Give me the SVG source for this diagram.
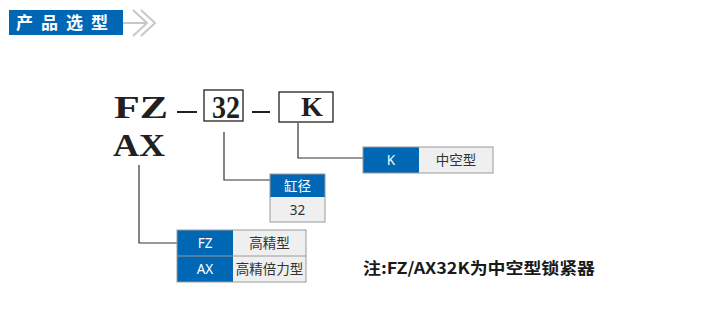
<svg xmlns="http://www.w3.org/2000/svg" width="718" height="315" viewBox="0 0 718 315">
<style>
.big{font-family:"Liberation Serif",serif;font-weight:bold;fill:#231f20}
.cw{font-family:"Noto Sans","Noto Sans CJK SC",sans-serif;font-size:13.5px;fill:#fff;text-anchor:middle}
.cg{font-family:"Noto Sans","Noto Sans CJK SC",sans-serif;font-size:13.5px;fill:#333;text-anchor:middle}
.blue{fill:#0067b5}
.grey{fill:#efefef}
.frame{fill:none;stroke:#9a9a9a;stroke-width:1}
.conn{fill:none;stroke:#333;stroke-width:1.2}
.box{fill:none;stroke:#231f20;stroke-width:1.3}
</style>
<rect width="718" height="315" fill="#fff"/>
<g id="header">
<rect x="9" y="10" width="114" height="25" class="blue"/>
<text x="66" y="28.5" font-family="'Noto Sans CJK SC',sans-serif" font-weight="bold" font-size="17" fill="#fff" text-anchor="middle" letter-spacing="8">产品选型</text>
<line x1="123" y1="23" x2="147" y2="23" stroke="#c8c8c8" stroke-width="2"/>
<polyline points="133,10 147,23 133,36" fill="none" stroke="#c8c8c8" stroke-width="2"/>
<polyline points="141,10 155,23 141,36" fill="none" stroke="#c8c8c8" stroke-width="2"/>
</g>
<g id="code">
<text x="114" y="118" class="big" font-size="32" textLength="54" lengthAdjust="spacingAndGlyphs">FZ</text>
<text x="113" y="156" class="big" font-size="32" textLength="52" lengthAdjust="spacingAndGlyphs">AX</text>
<line x1="177" y1="112" x2="197" y2="112" stroke="#231f20" stroke-width="2"/>
<rect x="204" y="90" width="39" height="31" class="box"/>
<text x="212" y="118" class="big" font-size="32" textLength="28" lengthAdjust="spacingAndGlyphs">32</text>
<line x1="252" y1="112" x2="270" y2="112" stroke="#231f20" stroke-width="2"/>
<rect x="279" y="92" width="54" height="30" class="box"/>
<text x="301" y="116" class="big" font-size="27" textLength="22" lengthAdjust="spacingAndGlyphs">K</text>
</g>
<g id="connectors">
<polyline points="298,123 298,158 363,158" class="conn"/>
<polyline points="224,132 224,180 270,180" class="conn"/>
<polyline points="139,165 139,243 177,243" class="conn"/>
</g>
<g id="table-k">
<rect x="363" y="147" width="56" height="26" class="blue"/>
<rect x="419" y="147" width="74" height="26" class="grey"/>
<rect x="363" y="147" width="130" height="26" class="frame"/>
<text x="391" y="165" class="cw">K</text>
<text x="456" y="165" class="cg">中空型</text>
</g>
<g id="table-bore">
<rect x="270" y="174" width="55" height="23" class="blue"/>
<rect x="270" y="197" width="55" height="25" class="grey"/>
<rect x="270" y="174" width="55" height="48" class="frame"/>
<text x="297.5" y="190.5" class="cw">缸径</text>
<text x="297.5" y="214.5" class="cg">32</text>
</g>
<g id="table-type">
<rect x="177" y="230" width="56" height="52" class="blue"/>
<rect x="233" y="230" width="73" height="52" class="grey"/>
<line x1="177" y1="256" x2="306" y2="256" stroke="#9a9a9a" stroke-width="1"/>
<rect x="177" y="230" width="129" height="52" class="frame"/>
<text x="205" y="248" class="cw">FZ</text>
<text x="269.5" y="248" class="cg">高精型</text>
<text x="205" y="274" class="cw">AX</text>
<text x="269.5" y="274" class="cg">高精倍力型</text>
</g>
<g id="note">
<text x="363" y="274" font-family="'Noto Sans CJK SC',sans-serif" font-weight="bold" font-size="16" fill="#1a1a1a" textLength="232" lengthAdjust="spacingAndGlyphs">注:FZ/AX32K为中空型锁紧器</text>
</g>
</svg>
